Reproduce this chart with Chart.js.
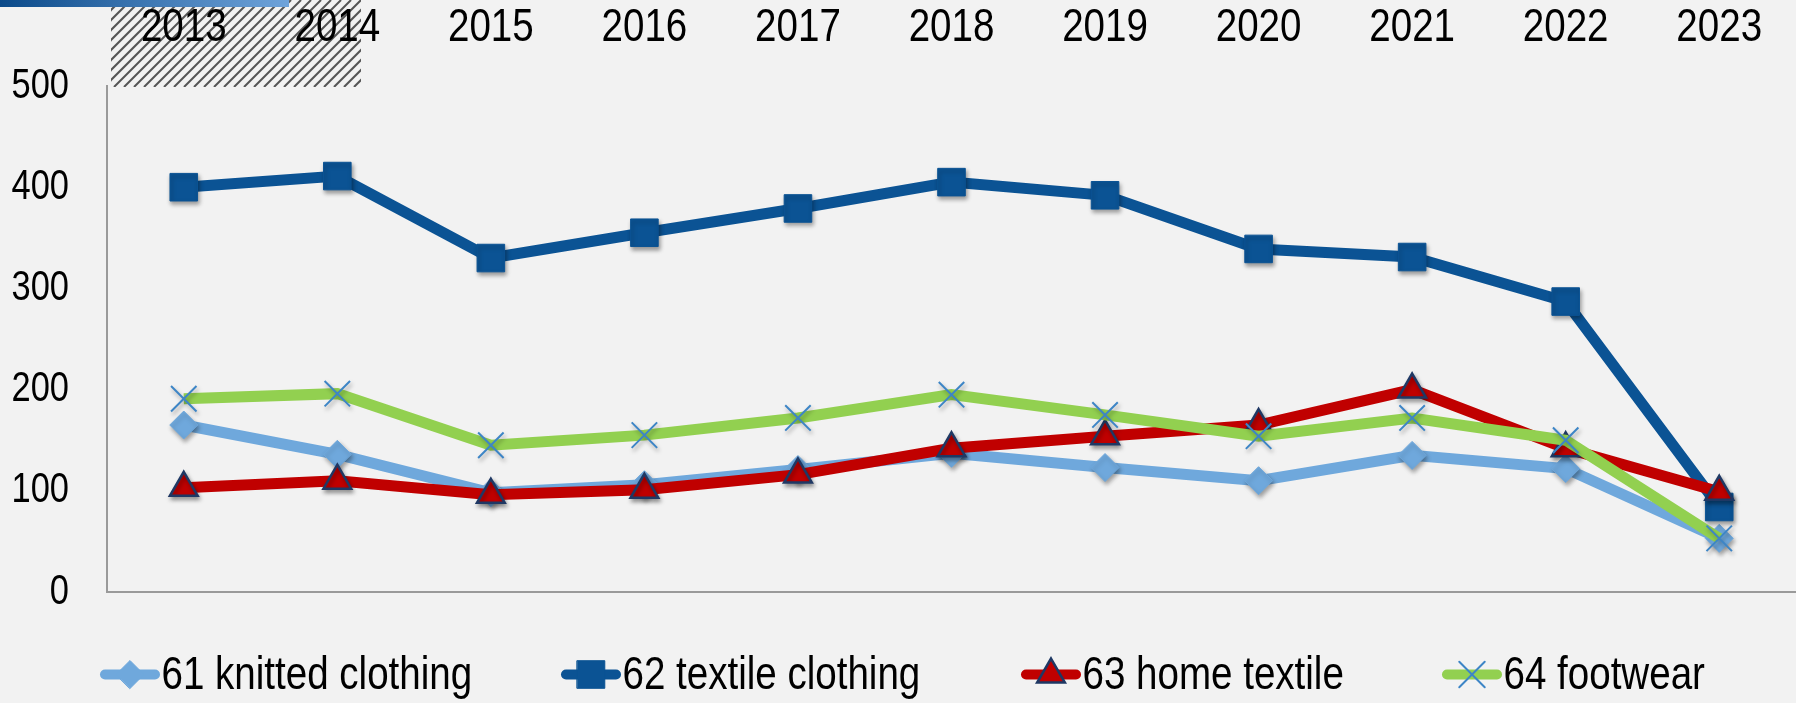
<!DOCTYPE html>
<html>
<head>
<meta charset="utf-8">
<script src="https://cdn.jsdelivr.net/npm/chart.js@4.4.1/dist/chart.umd.min.js"></script>
<style>
  html, body { margin: 0; padding: 0; background: #f2f2f2; }
  #wrap { width: 1796px; height: 703px; position: relative; }
</style>
</head>
<body>
<div id="wrap"><canvas id="c" width="1796" height="703"></canvas></div>
<script>
const years = ['2013','2014','2015','2016','2017','2018','2019','2020','2021','2022','2023'];
const knitted = [165, 136, 98, 106, 121, 137, 123, 110, 135, 122, 53];
const textile = [400, 411, 330, 355, 379, 405, 392, 339, 331, 287, 84];
const homeTextile = [103, 110, 96, 101, 116, 142, 154, 165, 200, 142, 99];
const footwear = [191, 196, 145, 155, 172, 195, 175, 154, 172, 150, 53];
const seriesNames = ['61 knitted clothing', '62 textile clothing', '63 home textile', '64 footwear'];
const yTicks = [0, 100, 200, 300, 400, 500];

const FONT = "'Liberation Sans', Arial, sans-serif";
const NARROW = 0.82; // horizontal squeeze to imitate a narrow face

const canvas = document.getElementById('c');
const ctx2d = canvas.getContext('2d');
const origFill = ctx2d.fillText.bind(ctx2d);
ctx2d.fillText = function (text, x, y, maxWidth) {
  this.save();
  this.translate(x, y);
  this.scale(NARROW, 1);
  if (maxWidth === undefined || maxWidth === null) origFill(text, 0, 0);
  else origFill(text, 0, 0, maxWidth / NARROW);
  this.restore();
};

// soft drop shadow under the markers only
const origPointDraw = Chart.PointElement.prototype.draw;
Chart.PointElement.prototype.draw = function (ctx, area) {
  ctx.save();
  ctx.shadowColor = 'rgba(0,0,0,0.35)';
  ctx.shadowBlur = 4;
  ctx.shadowOffsetX = 1.5;
  ctx.shadowOffsetY = 3;
  origPointDraw.call(this, ctx, area);
  ctx.restore();
};

const styles = [
  { color: '#6fa8dc', pointStyle: 'rectRot', radius: 14, bg: '#6fa8dc', border: '#6fa8dc', bw: 1 },
  { color: '#0b5394', pointStyle: 'rect', radius: 19.5, bg: '#0b5394', border: '#0b5394', bw: 1 },
  { color: '#c00000', pointStyle: 'triangle', radius: 16, bg: '#c00000', border: '#1f3864', bw: 2.5 },
  { color: '#92d050', pointStyle: 'crossRot', radius: 18, bg: '#3d85c6', border: '#3d85c6', bw: 2 }
];
const values = [knitted, textile, homeTextile, footwear];

const datasets = values.map((v, i) => ({
  label: seriesNames[i],
  data: v,
  borderColor: styles[i].color,
  backgroundColor: styles[i].color,
  borderWidth: 11,
  tension: 0,
  pointStyle: styles[i].pointStyle,
  pointRadius: styles[i].radius,
  pointHoverRadius: styles[i].radius,
  pointBackgroundColor: styles[i].bg,
  pointBorderColor: styles[i].border,
  pointBorderWidth: styles[i].bw,
  order: 4 - i
}));

const decorPlugin = {
  id: 'decor',
  beforeDraw(chart) {
    const ctx = chart.ctx;
    ctx.save();
    ctx.fillStyle = '#f2f2f2';
    ctx.fillRect(0, 0, chart.width, chart.height);
    const hx = 111, hy = 0, hw = 250, hh = 87;
    ctx.beginPath();
    ctx.rect(hx, hy, hw, hh);
    ctx.clip();
    ctx.strokeStyle = '#555555';
    ctx.lineWidth = 2;
    for (let s = -hh; s < hw + hh; s += 10) {
      ctx.beginPath();
      ctx.moveTo(hx + s, hy + hh);
      ctx.lineTo(hx + s + hh, hy);
      ctx.stroke();
    }
    ctx.restore();
    ctx.save();
    const g = ctx.createLinearGradient(0, 0, 289, 0);
    g.addColorStop(0, '#0b4a8a');
    g.addColorStop(1, '#6fa3da');
    ctx.fillStyle = g;
    ctx.fillRect(0, 0, 289, 7);
    ctx.restore();
  }
};

const legendPlugin = {
  id: 'customLegend',
  afterDraw(chart) {
    const ctx = chart.ctx;
    const starts = [100, 561, 1021, 1442];
    const y = 674.5;
    chart.data.datasets.forEach((ds, i) => {
      const x0 = starts[i];
      const x1 = x0 + 60;
      ctx.save();
      ctx.strokeStyle = ds.borderColor;
      ctx.lineWidth = 10;
      ctx.lineCap = 'round';
      ctx.beginPath();
      ctx.moveTo(x0 + 5, y);
      ctx.lineTo(x1 - 5, y);
      ctx.stroke();
      ctx.fillStyle = ds.pointBackgroundColor;
      ctx.strokeStyle = ds.pointBorderColor;
      ctx.lineWidth = ds.pointBorderWidth;
      Chart.helpers.drawPoint(ctx, {
        pointStyle: ds.pointStyle,
        radius: ds.pointRadius,
        rotation: 0,
        borderWidth: ds.pointBorderWidth
      }, (x0 + x1) / 2, y);
      ctx.fillStyle = '#000000';
      ctx.font = '47px ' + FONT;
      ctx.textAlign = 'left';
      ctx.textBaseline = 'middle';
      ctx.fillText(ds.label, x1 + 1.5, y + 2);
      ctx.restore();
    });
  }
};

new Chart(canvas, {
  type: 'line',
  data: { labels: years, datasets },
  options: {
    responsive: false,
    animation: false,
    layout: { autoPadding: false, padding: { left: 0, right: 0, top: 0, bottom: 111 } },
    plugins: { legend: { display: false }, tooltip: { enabled: false } },
    scales: {
      x: {
        type: 'category',
        position: 'bottom',
        offset: true,
        grid: { display: false, drawTicks: false },
        border: { display: true, color: '#9a9a9a', width: 2 },
        ticks: { display: false },
        afterFit(s) { s.height = 0; s.paddingLeft = 0; s.paddingRight = 0; }
      },
      xTop: {
        type: 'category',
        labels: years,
        position: 'top',
        offset: true,
        grid: { display: false, drawTicks: false },
        border: { display: false },
        ticks: { color: '#000', font: { family: FONT, size: 47 }, padding: 30, maxRotation: 0, autoSkip: false },
        afterFit(s) { s.height = 86; s.paddingLeft = 0; s.paddingRight = 0; }
      },
      y: {
        min: 0, max: 500,
        afterBuildTicks(s) { s.ticks = yTicks.map(v => ({ value: v })); },
        grid: { display: false, drawTicks: false },
        border: { display: true, color: '#9a9a9a', width: 2 },
        ticks: { color: '#000', font: { family: FONT, size: 42 }, padding: 38 },
        afterFit(s) { s.width = 107; s.paddingTop = 0; s.paddingBottom = 0; }
      }
    }
  },
  plugins: [decorPlugin, legendPlugin]
});
</script>
</body>
</html>
